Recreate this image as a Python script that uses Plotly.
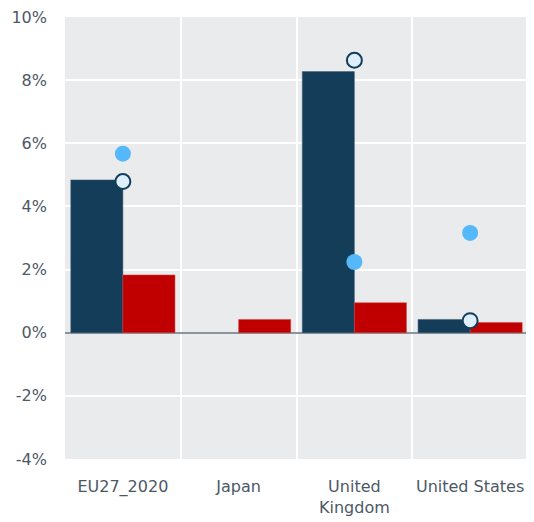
import plotly.graph_objects as go

categories = ["EU27_2020", "Japan", "United<br>Kingdom", "United States"]
series_dark = [4.84, None, 8.27, 0.42]
series_red = [1.83, 0.42, 0.95, 0.32]
dots_blue = [5.67, None, 2.24, 3.16]
dots_outline = [4.79, None, 8.63, 0.38]
y_ticks = [-4, -2, 0, 2, 4, 6, 8, 10]
y_tick_labels = [f"{v}%" for v in y_ticks]

fig = go.Figure()
fig.add_trace(go.Bar(x=categories, y=series_dark, marker=dict(color="#143d59", line=dict(color="#3b5a72", width=0.5)), name="dark"))
fig.add_trace(go.Bar(x=categories, y=series_red, marker=dict(color="#c00000", line=dict(color="#d04040", width=0.5)), name="red"))
fig.add_trace(go.Scatter(x=categories, y=dots_blue, mode="markers",
                         marker=dict(color="#55b8fa", size=16, line=dict(width=0)), name="blue"))
fig.add_trace(go.Scatter(x=categories, y=dots_outline, mode="markers",
                         marker=dict(color="#ddeffc", size=15, line=dict(color="#143d59", width=2)), name="outline"))

font = dict(family="DejaVu Sans, Verdana, sans-serif", size=16, color="#4d5866")
fig.update_layout(
    width=526, height=514,
    margin=dict(l=57, r=6, t=9, b=63),
    paper_bgcolor="white", plot_bgcolor="#eaebed",
    barmode="group", bargap=0.1, bargroupgap=0,
    showlegend=False, font=font,
    xaxis=dict(type="category", tickson="boundaries", showgrid=True, gridcolor="white", gridwidth=2,
               ticks="", tickfont=font, tickangle=0, automargin=False, ticklabelstandoff=16,
               ticklabeloverflow="allow",
               showline=False, zeroline=False, fixedrange=True),
    yaxis=dict(range=[-4, 10], tickvals=y_ticks, ticktext=y_tick_labels, showgrid=True,
               gridcolor="white", gridwidth=2, zeroline=True, zerolinecolor="#8c959d", zerolinewidth=2,
               ticklabelstandoff=17, automargin=False, ticklabeloverflow="allow",
               tickfont=font, showline=False, fixedrange=True),
)
fig.write_html("out.html")
